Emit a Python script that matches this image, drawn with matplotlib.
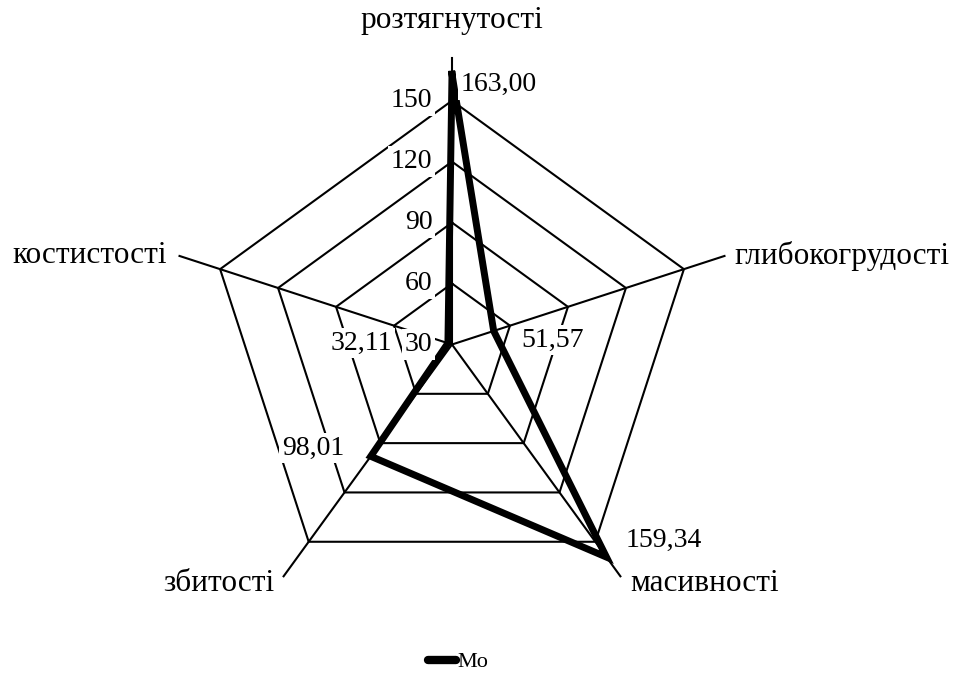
import numpy as np
import matplotlib
matplotlib.use("Agg")
import matplotlib.pyplot as plt
from matplotlib.lines import Line2D

plt.rcParams['font.family'] = ['Liberation Serif', 'DejaVu Serif']

categories = ["розтягнутості", "глибокогрудості", "масивності", "збитості", "костистості"]
values = [163.00, 51.57, 159.34, 98.01, 32.11]
value_labels = ["163,00", "51,57", "159,34", "98,01", "32,11"]
grid_levels = [60, 90, 120, 150]
tick_values = [30, 60, 90, 120, 150]
series_name = "Mo"
r_min, r_max = 30, 171

W, H = 965, 686
cx, cy = 452, 344.5
R = 286.5

fig = plt.figure(figsize=(W / 100, H / 100), dpi=100)
ax = fig.add_axes([(cx - R) / W, (H - cy - R) / H, 2 * R / W, 2 * R / H], projection='polar')
ax.set_theta_offset(np.pi / 2)
ax.set_theta_direction(-1)
ax.set_ylim(r_min, r_max)
ax.grid(False)
ax.spines['polar'].set_visible(False)
ax.set_xticks([])
ax.set_yticks([])
ax.patch.set_alpha(0)

n = len(categories)
theta = np.linspace(0, 2 * np.pi, n, endpoint=False)
theta_c = np.append(theta, theta[0])

# spokes
for t in theta:
    ax.plot([t, t], [r_min, r_max], color='black', lw=1.5, zorder=1, clip_on=False)
# pentagon grid
for v in grid_levels:
    ax.plot(theta_c, [v] * (n + 1), color='black', lw=1.5, zorder=1, clip_on=False)

# data
vals_c = values + [values[0]]
line, = ax.plot(theta_c, vals_c, color='black', lw=5.0, zorder=2, clip_on=False,
                solid_joinstyle='miter')

fs = 20
fs_cat = 22.5
box = dict(boxstyle='square,pad=0.1', fc='white', ec='none')

# radial tick labels
for v in tick_values:
    ax.annotate(str(v), xy=(0, v), xytext=(-14, 0), textcoords='offset points',
                ha='right', va='center', fontsize=fs, bbox=box, zorder=4)

# data labels
lab_off = [(6, -7.5, 'left'), (20, -6.5, 'left'), (14, 12, 'left'), (-19, 6, 'right'), (-40, 0, 'right')]
for t, v, s, (dx, dy, ha) in zip(theta, values, value_labels, lab_off):
    ax.annotate(s, xy=(t, v), xytext=(dx, dy), textcoords='offset points',
                ha=ha, va='center', fontsize=fs, bbox=box, zorder=5)

# category labels
cat_off = [(0, 27, 'center'), (7, 0, 'left'), (7, -5, 'left'), (-7, -5, 'right'), (-9, 0, 'right')]
for t, s, (dx, dy, ha) in zip(theta, categories, cat_off):
    ax.annotate(s, xy=(t, r_max), xytext=(dx, dy), textcoords='offset points',
                ha=ha, va='center', fontsize=fs_cat, bbox=box, zorder=5, annotation_clip=False)

handle = Line2D([], [], color='black', lw=6, solid_capstyle='round')
fig.legend([handle], [series_name], loc='center', bbox_to_anchor=(458 / W, 1 - 662 / H),
           frameon=False, handlelength=1.3, handletextpad=0.05, fontsize=16)

fig.savefig("out.png", dpi=100)
